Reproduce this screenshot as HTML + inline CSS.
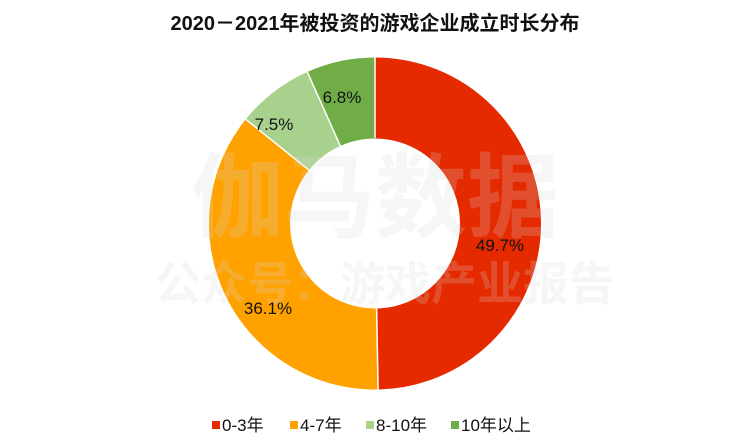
<!DOCTYPE html>
<html><head><meta charset="utf-8"><style>
body{margin:0;width:750px;height:448px;background:#fff;overflow:hidden;font-family:"Liberation Sans","Noto Sans CJK SC",sans-serif}
</style></head><body>
<svg width="750" height="448" xmlns="http://www.w3.org/2000/svg" style="position:absolute;left:0;top:0">
<text x="375" y="30" text-anchor="middle" font-size="20" font-weight="bold" fill="#111" font-family="Liberation Sans, Noto Sans CJK SC, sans-serif">2020－2021年被投资的游戏企业成立时长分布</text>
<g transform="rotate(-90 375 223.5)" fill="none" stroke-width="81">
<circle cx="375" cy="223.5" r="125.5" stroke="#E52A00" stroke-dasharray="391.9 1000" stroke-dashoffset="0"/>
<circle cx="375" cy="223.5" r="125.5" stroke="#FFA200" stroke-dasharray="284.66 1000" stroke-dashoffset="-391.9"/>
<circle cx="375" cy="223.5" r="125.5" stroke="#A9D18E" stroke-dasharray="59.14 1000" stroke-dashoffset="-676.56"/>
<circle cx="375" cy="223.5" r="125.5" stroke="#70AD47" stroke-dasharray="53.62 1000" stroke-dashoffset="-735.7"/>
</g>
<g stroke="#fff" stroke-width="1.5">
<line x1="375" y1="138" x2="375" y2="57"/>
<line x1="376.6" y1="308.5" x2="378.1" y2="389.5"/>
<line x1="308.9" y1="170.1" x2="245.8" y2="119.3"/>
<line x1="340.3" y1="145.9" x2="307.3" y2="71.9"/>
</g>
<g fill="#d8d8d8" fill-opacity="0.22" font-weight="bold" font-family="Liberation Sans, Noto Sans CJK SC, sans-serif">
<text x="375" y="230" text-anchor="middle" font-size="92">伽马数据</text>
<text x="385" y="300" text-anchor="middle" font-size="46">公众号：游戏产业报告</text>
</g>
<g font-size="17" fill="#111" text-anchor="middle">
<text x="500" y="251">49.7%</text>
<text x="268" y="314">36.1%</text>
<text x="274" y="130">7.5%</text>
<text x="342" y="103">6.8%</text>
</g>
<g font-size="17" fill="#111">
<rect x="212" y="421" width="8" height="8" fill="#E52A00"/><text x="222" y="431">0-3年</text>
<rect x="290" y="421" width="8" height="8" fill="#FFA200"/><text x="300" y="431">4-7年</text>
<rect x="366" y="421" width="8" height="8" fill="#A9D18E"/><text x="376" y="431">8-10年</text>
<rect x="451" y="421" width="8" height="8" fill="#70AD47"/><text x="461" y="431">10年以上</text>
</g>
</svg>
</body></html>
